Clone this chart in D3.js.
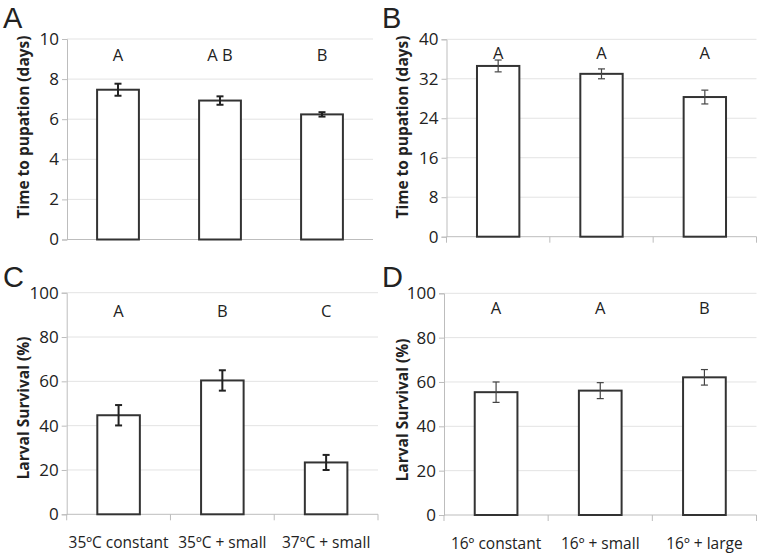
<!DOCTYPE html>
<html><head><meta charset="utf-8">
<script src="https://cdn.jsdelivr.net/npm/d3@7"></script>
<style>
body{margin:0;background:#fff;}
svg{display:block;font-family:"Open Sans",sans-serif;}
</style></head>
<body><svg id="c" width="761" height="557"></svg>
<script>
// ---- data ----
const catsLeft = ["35ºC constant", "35ºC + small", "37ºC + small"];
const catsRight = ["16º constant", "16º + small", "16º + large"];
const pupA = [7.47, 6.93, 6.24];
const pupAErr = [0.30, 0.21, 0.11];
const pupALetters = ["A", "A B", "B"];
const pupB = [34.6, 33.0, 28.3];
const pupBErr = [1.2, 1.0, 1.4];
const pupBLetters = ["A", "A", "A"];
const survC = [44.7, 60.4, 23.4];
const survCErr = [4.6, 4.6, 3.4];
const survCLetters = ["A", "B", "C"];
const survD = [55.4, 56.1, 62.1];
const survDErr = [4.6, 3.6, 3.5];
const survDLetters = ["A", "A", "B"];
const ticksA = [0, 2, 4, 6, 8, 10];
const ticksB = [0, 8, 16, 24, 32, 40];
const ticksCD = [0, 20, 40, 60, 80, 100];

const svg = d3.select("#c");

function panel(o) {
  const g = svg.append("g");
  const x = d3.scaleBand().domain(o.cats).range([o.x0, o.x1]).paddingInner(0.59).paddingOuter(0.295);
  const y = d3.scaleLinear().domain([0, o.max]).range([o.y1, o.y0]);
  // gridlines
  g.selectAll("line.grid").data(o.ticks.filter(t => t > 0)).join("line")
    .attr("x1", o.x0).attr("x2", o.x1)
    .attr("y1", d => y(d)).attr("y2", d => y(d))
    .attr("stroke", "#e3e3e3").attr("stroke-width", 1);
  // y axis
  const ya = g.append("g").attr("transform", `translate(${o.x0},0)`)
    .call(d3.axisLeft(y).tickValues(o.ticks).tickSize(5).tickPadding(3));
  ya.select(".domain").attr("stroke", "#bdbdbd");
  ya.selectAll(".tick line").attr("stroke", "#bdbdbd");
  ya.selectAll("text").attr("font-size", 17).attr("fill", "#222").attr("font-family", "Open Sans");
  // x axis
  const xa = g.append("g").attr("transform", `translate(0,${o.y1})`);
  xa.append("line").attr("x1", o.x0).attr("x2", o.x1).attr("stroke", "#bdbdbd");
  if (o.xticks) {
    const bounds = o.cats.map(c => x(c) - x.step() * x.paddingOuter());
    bounds.push(o.x1);
    xa.selectAll("line.xt").data(bounds).join("line")
      .attr("x1", d => d).attr("x2", d => d).attr("y1", 0).attr("y2", 6).attr("stroke", "#bdbdbd");
  }
  if (o.showLabels) {
    xa.selectAll("text").data(o.cats).join("text")
      .attr("x", d => x(d) + x.bandwidth() / 2).attr("y", 33.5)
      .attr("text-anchor", "middle").attr("font-size", 15.5).attr("fill", "#222").text(d => d);
  }
  // bars
  g.selectAll("rect.bar").data(o.vals).join("rect")
    .attr("x", (d, i) => x(o.cats[i])).attr("width", x.bandwidth())
    .attr("y", d => y(d)).attr("height", d => y(0) - y(d))
    .attr("fill", "#fff").attr("stroke", "#333").attr("stroke-width", 2);
  // error bars
  const ec = o.errColor, ew = o.errWidth;
  o.vals.forEach((v, i) => {
    const cx = x(o.cats[i]) + x.bandwidth() / 2;
    const e = o.errs[i];
    g.append("line").attr("x1", cx).attr("x2", cx).attr("y1", y(v + e)).attr("y2", y(v - e)).attr("stroke", ec).attr("stroke-width", ew);
    [v + e, v - e].forEach(t => g.append("line").attr("x1", cx - 3.5).attr("x2", cx + 3.5).attr("y1", y(t)).attr("y2", y(t)).attr("stroke", ec).attr("stroke-width", ew));
  });
  // letters
  g.selectAll("text.let").data(o.letters).join("text")
    .attr("x", (d, i) => x(o.cats[i]) + x.bandwidth() / 2).attr("y", o.letY)
    .attr("text-anchor", "middle").attr("font-size", 16.5).attr("fill", "#222").text(d => d);
  // y title
  g.append("text").attr("transform", `translate(${o.titleX},${o.titleY}) rotate(-90)`)
    .attr("text-anchor", "middle").attr("font-size", 15.5).attr("font-weight", "bold").attr("fill", "#222").text(o.title);
  // panel label
  g.append("text").attr("x", o.px).attr("y", o.py).attr("font-size", 29)
    .attr("font-family", "Liberation Sans").attr("fill", "#222").text(o.panel);
}

panel({cats: catsLeft, vals: pupA, errs: pupAErr, letters: pupALetters, max: 10, ticks: ticksA,
  x0: 67, x1: 373, y0: 39, y1: 239.5, xticks: false, showLabels: false, errColor: "#222", errWidth: 2,
  letY: 61, title: "Time to pupation (days)", titleX: 29, titleY: 127, panel: "A", px: 3, py: 28});
panel({cats: catsRight, vals: pupB, errs: pupBErr, letters: pupBLetters, max: 40, ticks: ticksB,
  x0: 446.5, x1: 756.5, y0: 39.3, y1: 236.7, xticks: true, showLabels: false, errColor: "#444", errWidth: 1.2,
  letY: 58.5, title: "Time to pupation (days)", titleX: 408, titleY: 127, panel: "B", px: 382, py: 28});
panel({cats: catsLeft, vals: survC, errs: survCErr, letters: survCLetters, max: 100, ticks: ticksCD,
  x0: 66.7, x1: 378, y0: 292.7, y1: 514.3, xticks: true, showLabels: true, errColor: "#222", errWidth: 2,
  letY: 316.5, title: "Larval Survival (%)", titleX: 29, titleY: 408, panel: "C", px: 3, py: 287});
panel({cats: catsRight, vals: survD, errs: survDErr, letters: survDLetters, max: 100, ticks: ticksCD,
  x0: 444, x1: 756.5, y0: 293.3, y1: 515, xticks: true, showLabels: true, errColor: "#444", errWidth: 1.2,
  letY: 314, title: "Larval Survival (%)", titleX: 408, titleY: 410, panel: "D", px: 382, py: 287});
</script></body></html>
